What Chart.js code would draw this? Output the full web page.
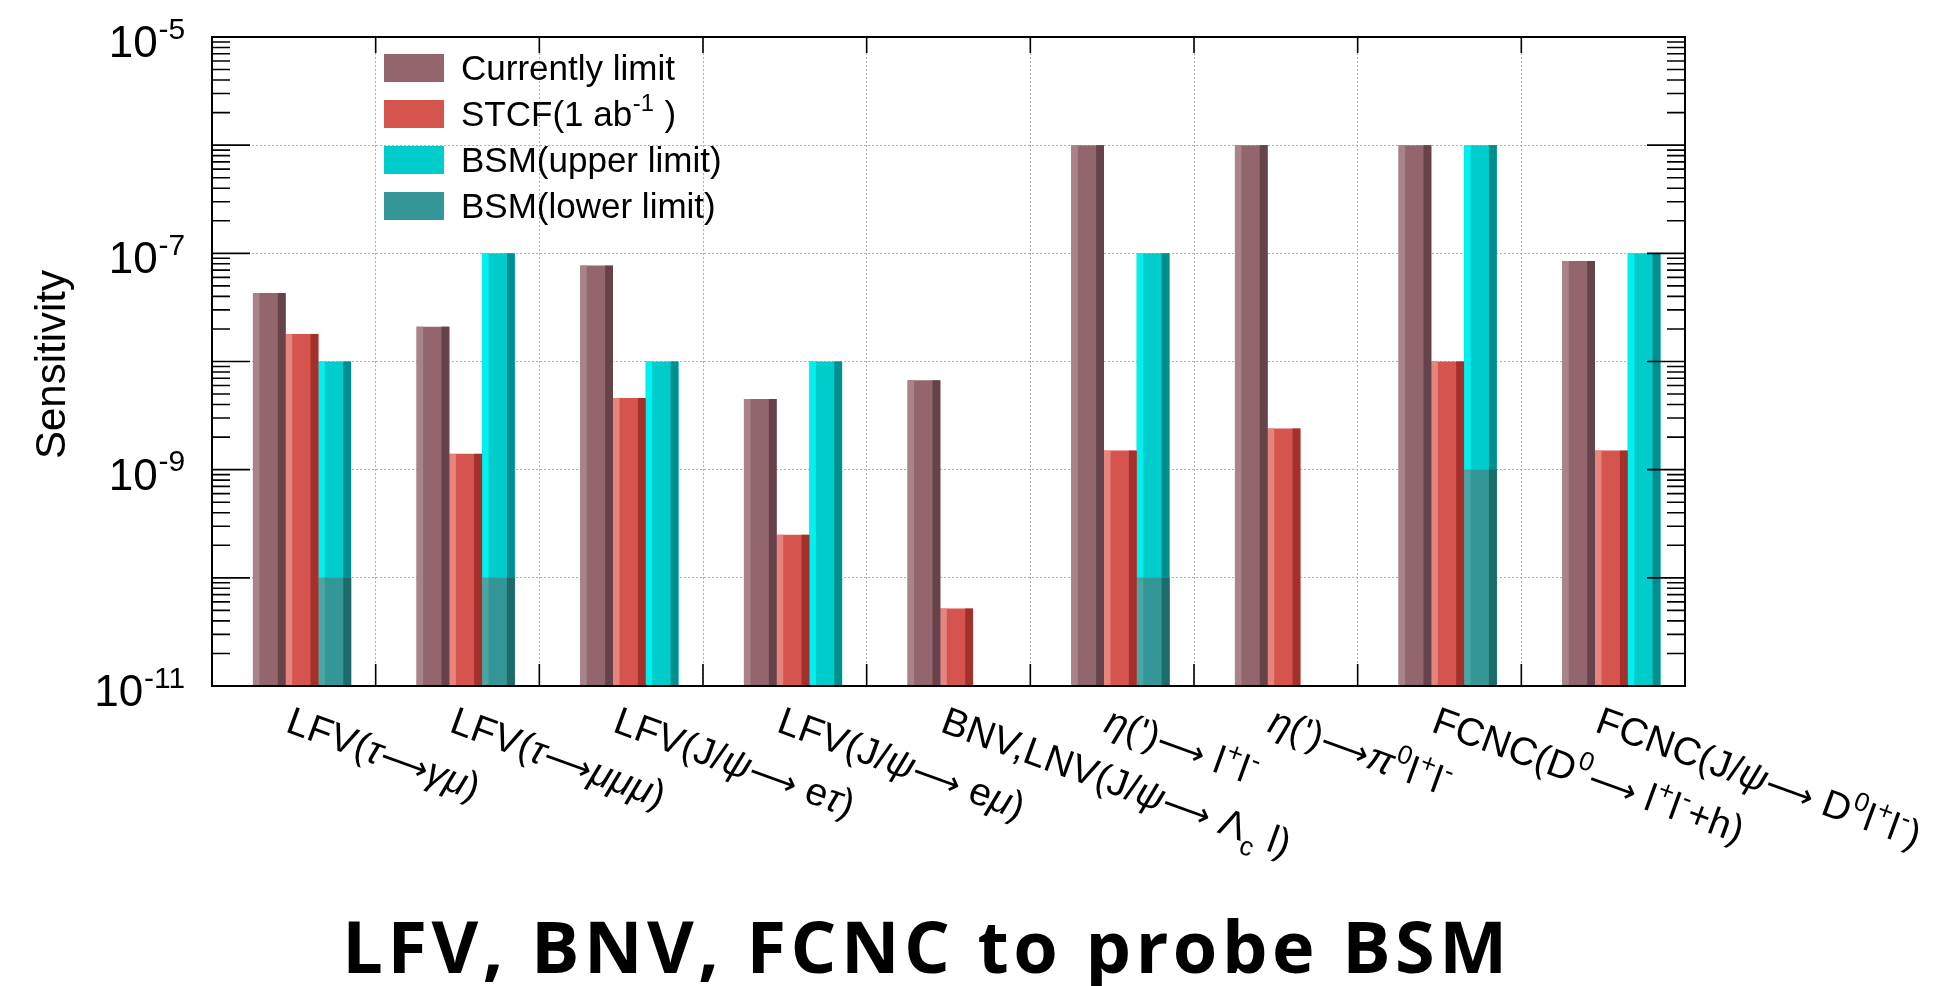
<!DOCTYPE html>
<html lang="en">
<head>
<meta charset="UTF-8" />
<title>LFV, BNV, FCNC to probe BSM</title>
<script src="https://cdn.jsdelivr.net/npm/chart.js"></script>
<style>
  body {
    margin: 0;
    background: #fff;
    width: 1952px;
    height: 986px;
    position: relative;
    overflow: hidden;
  }
  #chart { position: absolute; left: 0; top: 0; }
  h2 {
    position: absolute;
    left: 0;
    top: 909px;
    width: 1854px;
    margin: 0;
    text-align: center;
    font: bold 72px 'Open Sans', sans-serif;
    line-height: 72px;
    letter-spacing: 4.5px;
    color: #000;
  }
</style>
</head>
<body>

<canvas id="chart" width="1952" height="986"></canvas>
<h2>LFV, BNV, FCNC to probe BSM</h2>

<script>
  // channel names, ^{..} = superscript, _{..} = subscript
  const channels = [
    'LFV(τ→γμ)',
    'LFV(τ→μμμ)',
    'LFV(J/ψ→ eτ)',
    'LFV(J/ψ→ eμ)',
    'BNV,LNV(J/ψ→ Λ_{c} l)',
    "η(')→ l^{+}l^{-}",
    "η(')→π^{0}l^{+}l^{-}",
    'FCNC(D^{0}→ l^{+}l^{-}+h)',
    'FCNC(J/ψ→ D^{0}l^{+}l^{-})'
  ];
  const currentLimit = [4.3e-8, 2.1e-8, 7.7e-8, 4.5e-9, 6.7e-9, 1e-6, 1e-6, 1e-6, 8.5e-8];
  const stcf         = [1.8e-8, 1.4e-9, 4.6e-9, 2.5e-10, 5.2e-11, 1.5e-9, 2.4e-9, 1e-8, 1.5e-9];
  const bsmUpper     = [1e-8, 1e-7, 1e-8, 1e-8, null, 1e-7, null, 1e-6, 1e-7];
  const bsmLower     = [1e-10, 1e-10, null, null, null, 1e-10, null, 1e-9, null];
  const seriesNames  = ['Currently limit', 'STCF(1 ab^{-1} )', 'BSM(upper limit)', 'BSM(lower limit)'];
  const yLabelExps   = [-5, -7, -9, -11];

  const Y_MIN = 1e-11, Y_MAX = 1e-5;
  const FONT = "'Liberation Sans', Arial, sans-serif";

  // ROOT style bars: bar k of a bin starts at offset + k*width (fractions of the bin).
  // Chart.js centres groups, so each dataset gets its own category/bar percentage
  // inside a 2-stack layout to land on those positions.
  const BAR_OFFSET = 0.25, BAR_WIDTH = 0.2, STACKS = 2;
  function barSlot(k, stackIndex) {
    const centre = BAR_OFFSET + (k + 0.5) * BAR_WIDTH - 0.5;
    const f = (stackIndex + 0.5) / STACKS - 0.5;
    const cat = centre / f;
    return { categoryPercentage: cat, barPercentage: BAR_WIDTH / (cat / STACKS) };
  }

  const colours = [
    { main: '#93666e', light: '#a8848a', dark: '#66434a' },
    { main: '#d5554e', light: '#e6857d', dark: '#a4302b' },
    { main: '#00cccc', light: '#00f0f0', dark: '#008e8e' },
    { main: '#349696', light: '#48a6a6', dark: '#1e6b6b' }
  ];

  // tiny TLatex-like renderer for ^{} and _{}; greek lower case in italic,
  // arrows as long arrows
  function parseRich(str) {
    const out = [];
    let i = 0, buf = '';
    while (i < str.length) {
      const c = str[i];
      if ((c === '^' || c === '_') && str[i + 1] === '{') {
        if (buf) { out.push({ t: buf, m: 0 }); buf = ''; }
        const end = str.indexOf('}', i);
        out.push({ t: str.slice(i + 2, end), m: c === '^' ? 1 : -1 });
        i = end + 1;
      } else {
        buf += c;
        i++;
      }
    }
    if (buf) out.push({ t: buf, m: 0 });
    return out;
  }

  function pieces(str, size) {
    const list = [];
    for (const s of parseRich(str)) {
      const fs = s.m ? size * 0.68 : size;
      const dy = s.m === 1 ? -size * 0.42 : s.m === -1 ? size * 0.3 : 0;
      let run = '', kind = null;
      const flush = () => {
        if (!run) return;
        let font = fs + 'px ' + FONT, t = run;
        if (kind === 'g') font = 'italic ' + font;
        if (kind === 'a') { font = (fs * 0.88) + "px 'DejaVu Sans'"; t = '⟶'.repeat(run.length); }
        list.push({ t, font, dy, pad: s.m ? size * 0.02 : 0 });
        run = '';
      };
      for (const ch of s.t) {
        const k = ch === '→' ? 'a' : /[α-ω]/.test(ch) ? 'g' : 'n';
        if (k !== kind) { flush(); kind = k; }
        run += ch;
      }
      flush();
    }
    return list;
  }

  function richWidth(ctx, str, size) {
    let w = 0;
    for (const p of pieces(str, size)) {
      ctx.font = p.font;
      w += ctx.measureText(p.t).width + 2 * p.pad;
    }
    return w;
  }

  function drawRich(ctx, str, x, y, size) {
    ctx.textBaseline = 'alphabetic';
    ctx.textAlign = 'left';
    for (const p of pieces(str, size)) {
      ctx.font = p.font;
      x += p.pad;
      ctx.fillText(p.t, x, y + p.dy);
      x += ctx.measureText(p.t).width + p.pad;
    }
    return x;
  }

  // light left / dark right edge on every bar, like ROOT's "bar2" option
  const barShade = {
    id: 'barShade',
    afterDatasetDraw(chart, args) {
      const meta = args.meta;
      const col = colours[args.index];
      const ctx = chart.ctx;
      ctx.save();
      meta.data.forEach((el, i) => {
        if (meta._parsed[i].y == null) return;
        const { x, y, base, width } = el.getProps(['x', 'y', 'base', 'width'], true);
        const left = x - width / 2;
        ctx.fillStyle = col.light;
        ctx.fillRect(left, y, width * 0.2, base - y);
        ctx.fillStyle = col.dark;
        ctx.fillRect(left + width * 0.76, y, width * 0.24, base - y);
      });
      ctx.restore();
    }
  };

  // frame, tick marks, labels and legend drawn on top
  const rootAxes = {
    id: 'rootAxes',
    afterDraw(chart) {
      const ctx = chart.ctx;
      const { left, right, top, bottom } = chart.chartArea;
      const xs = chart.scales.x, ys = chart.scales.y;
      ctx.save();

      // frame
      ctx.strokeStyle = '#000';
      ctx.lineWidth = 2;
      ctx.strokeRect(left, top, right - left, bottom - top);

      // log ticks, mirrored on the right side
      ctx.lineWidth = 1.6;
      ctx.beginPath();
      for (let e = Math.log10(Y_MIN); e <= Math.log10(Y_MAX); e++) {
        for (let m = 1; m <= 9; m++) {
          const v = m * Math.pow(10, e);
          if (v > Y_MAX * 1.0001) break;
          const py = ys.getPixelForValue(v);
          const len = m === 1 ? 38 : 18;
          ctx.moveTo(left, py); ctx.lineTo(left + len, py);
          ctx.moveTo(right, py); ctx.lineTo(right - len, py);
        }
      }
      // bin edge ticks top and bottom
      for (let i = 1; i < channels.length; i++) {
        const px = (xs.getPixelForValue(i - 1) + xs.getPixelForValue(i)) / 2;
        ctx.moveTo(px, bottom); ctx.lineTo(px, bottom - 22);
        ctx.moveTo(px, top); ctx.lineTo(px, top + 16);
      }
      ctx.stroke();

      ctx.fillStyle = '#000';

      // y labels 10^{n}
      yLabelExps.forEach(n => {
        const py = ys.getPixelForValue(Math.pow(10, n));
        const txt = '10^{' + n + '}';
        const w = richWidth(ctx, txt, 44);
        drawRich(ctx, txt, left - 26 - w, py + 20, 44);
      });

      // y title
      ctx.save();
      ctx.translate(53, (top + bottom) / 2 + 3);
      ctx.rotate(-Math.PI / 2);
      ctx.font = '42px ' + FONT;
      ctx.textAlign = 'center';
      ctx.textBaseline = 'middle';
      ctx.fillText('Sensitivity', 0, 0);
      ctx.restore();

      // rotated channel labels, starting at the bin centre
      channels.forEach((lab, i) => {
        ctx.save();
        ctx.translate(xs.getPixelForValue(i), bottom + 19);
        ctx.rotate(20 * Math.PI / 180);
        drawRich(ctx, lab, 0, 28, 39);
        ctx.restore();
      });

      // legend
      const lx = left + 172, ly = top + 31, step = 46;
      seriesNames.forEach((name, i) => {
        const cy = ly + i * step;
        ctx.fillStyle = colours[i].main;
        ctx.fillRect(lx, cy - 14, 60, 28);
        ctx.fillStyle = '#000';
        drawRich(ctx, name, lx + 77, cy + 12, 35);
      });

      ctx.restore();
    }
  };

  const dotted = { display: false, dash: [2, 2] };
  const grid = { color: '#b0b0b0', lineWidth: 1, drawTicks: false };

  new Chart(document.getElementById('chart'), {
    type: 'bar',
    data: {
      labels: channels,
      datasets: [
        { label: seriesNames[0], data: currentLimit, stack: 'a', order: 0,
          backgroundColor: colours[0].main, ...barSlot(0, 0) },
        { label: seriesNames[1], data: stcf, stack: 'b', order: 0,
          backgroundColor: colours[1].main, ...barSlot(1, 1) },
        { label: seriesNames[2], data: bsmUpper, stack: 'b', order: 1,
          backgroundColor: colours[2].main, ...barSlot(2, 1) },
        { label: seriesNames[3], data: bsmLower, stack: 'b', order: 0,
          backgroundColor: colours[3].main, ...barSlot(2, 1) }
      ]
    },
    options: {
      responsive: false,
      devicePixelRatio: 1,
      animation: false,
      layout: { padding: { left: 212, right: 267, top: 37, bottom: 300 } },
      plugins: { legend: { display: false }, tooltip: { enabled: false } },
      scales: {
        x: {
          type: 'category',
          offset: true,
          grid: { ...grid, offset: true },
          border: dotted,
          ticks: { display: false }
        },
        y: {
          type: 'logarithmic',
          min: Y_MIN,
          max: Y_MAX,
          stacked: false,
          afterBuildTicks(scale) {
            const ticks = [];
            for (let e = Math.log10(Y_MIN); e <= Math.log10(Y_MAX); e++) ticks.push({ value: Math.pow(10, e) });
            scale.ticks = ticks;
          },
          grid: grid,
          border: dotted,
          ticks: { display: false }
        }
      }
    },
    plugins: [barShade, rootAxes]
  });
</script>

</body>
</html>
